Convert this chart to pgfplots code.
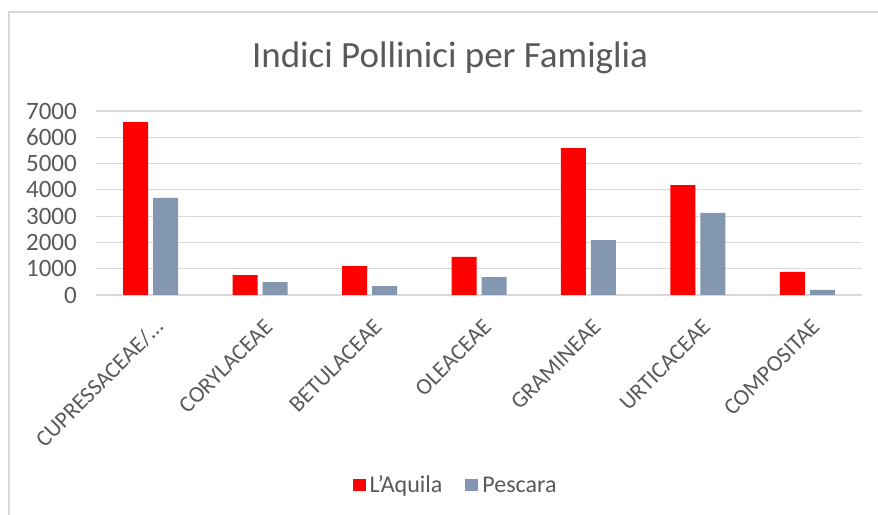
\documentclass[border=0pt]{standalone}
\usepackage{fontspec}
\setmainfont{Carlito}
\usepackage{pgfplots}
\pgfplotsset{compat=1.18}
\definecolor{aq}{HTML}{FF0000}
\definecolor{pe}{HTML}{8497B0}
\definecolor{gridc}{HTML}{D9D9D9}
\definecolor{txt}{HTML}{595959}
\begin{document}
\begin{tikzpicture}[x=1bp,y=1bp]
\useasboundingbox (0,0) rectangle (878,515);
\draw[gridc,line width=1.5bp] (9,0) -- (9,503) -- (878,503);
\node[txt,font=\fontsize{37bp}{44bp}\selectfont] at (450,457) {Indici Pollinici per Famiglia};
\begin{axis}[
  at={(96bp,220bp)}, anchor=south west,
  scale only axis, width=766bp, height=184bp,
  ybar, bar width=25bp,
  xmin=-0.5, xmax=6.5, ymin=0, ymax=7000,
  ytick={0,1000,...,7000},
  xtick=data,
  xticklabels={CUPRESSACEAE/…,CORYLACEAE,BETULACEAE,OLEACEAE,GRAMINEAE,URTICACEAE,COMPOSITAE},
  axis line style={draw=none},
  major tick length=0pt,
  ymajorgrids, grid style={gridc,line width=1.2bp},
  scaled ticks=false,
  yticklabel style={/pgf/number format/assume math mode=true,/pgf/number format/1000 sep={},
     txt,font=\fontsize{25bp}{30bp}\selectfont,inner sep=0pt,xshift=-19bp,anchor=east},
  xticklabel style={txt,font=\fontsize{23bp}{27bp}\selectfont,rotate=45,anchor=east,inner sep=0pt,xshift=-14bp,yshift=-26bp},
  legend style={at={(0.4687,-1.033)},anchor=center,draw=none,legend columns=2,
     font=\fontsize{24bp}{28bp}\selectfont,text=txt,
     nodes={inner sep=1bp},
     /tikz/every odd column/.append style={column sep=3bp},
     /tikz/every even column/.append style={column sep=22bp}},
  legend image code/.code={\fill[#1] (0bp,-6bp) rectangle (13bp,6bp);},
]
\addplot[draw=none,fill=aq,bar shift=-15bp] coordinates {(0,6580) (1,760) (2,1100) (3,1450) (4,5590) (5,4180) (6,875)};
\addplot[draw=none,fill=pe,bar shift=15bp] coordinates {(0,3690) (1,490) (2,340) (3,680) (4,2090) (5,3120) (6,190)};
\legend{L'Aquila,Pescara}
\end{axis}
\end{tikzpicture}
\end{document}
